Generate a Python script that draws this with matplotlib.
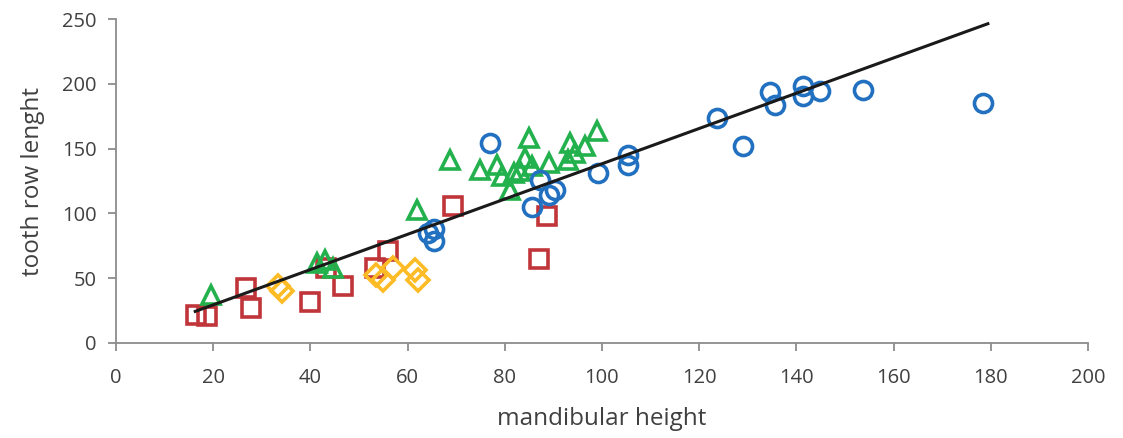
import numpy as np
import matplotlib
matplotlib.use('Agg')
import matplotlib.pyplot as plt

# data (mandibular height vs tooth row length)
squares_x = [16.4, 18.7, 26.7, 27.8, 39.9, 43.3, 46.8, 53.3, 56.0, 69.3, 87.1, 88.6]
squares_y = [21.5, 20.5, 42.4, 27.0, 32.0, 57.9, 43.7, 57.9, 70.7, 105.8, 64.8, 97.7]

diamonds_x = [33.4, 34.1, 53.6, 55.0, 57.0, 61.5, 62.2]
diamonds_y = [43.7, 39.8, 52.7, 48.8, 57.9, 56.6, 48.8]

triangles_x = [19.5, 41.3, 43.0, 44.7, 62.0, 68.8, 74.9, 78.3, 79.4, 81.1, 81.8,
               83.1, 84.2, 84.9, 85.5, 89.0, 93.1, 93.4, 94.4, 96.5, 98.9]
triangles_y = [37.3, 61.7, 64.3, 57.9, 102.5, 141.4, 133.7, 137.6, 128.5, 118.3, 131.2,
               132.4, 142.7, 158.2, 136.3, 138.9, 141.4, 154.3, 146.6, 151.7, 163.3]

circles_x = [64.2, 65.5, 65.5, 77.0, 85.5, 87.2, 89.0, 90.3, 99.2, 105.4, 105.4,
             123.6, 129.1, 134.6, 135.6, 141.4, 141.4, 144.9, 153.8, 178.3]
circles_y = [84.9, 79.0, 88.0, 154.3, 105.0, 126.0, 114.4, 118.0, 131.2, 145.3, 137.6,
             173.6, 152.2, 193.4, 183.9, 198.0, 190.3, 194.1, 195.4, 185.2]

# trend line
line_x = [16.3, 179.4]
slope = 1.361
intercept = 2.2

plt.rcParams['font.family'] = ['Open Sans', 'DejaVu Sans']

fig = plt.figure(figsize=(11.23, 4.38), dpi=100)
ax = fig.add_axes([0.1033, 0.2169, 0.8655, 0.7397])

ms = 13
mew = 2.6
ax.plot(squares_x, squares_y, 's', ms=ms * 0.95, mew=mew, mfc='none', mec='#c0353a', zorder=3)
ax.plot(diamonds_x, diamonds_y, 'D', ms=ms * 0.85, mew=mew, mfc='none', mec='#fdbb26', zorder=3)
ax.plot(triangles_x, triangles_y, '^', ms=ms * 1.05, mew=mew, mfc='none', mec='#22b14c', zorder=3)
ax.plot(circles_x, circles_y, 'o', ms=ms, mew=mew, mfc='none', mec='#2270c0', zorder=3)

lx = np.array(line_x)
ax.plot(lx, slope * lx + intercept, color='#1a1a1a', lw=2.2, zorder=4)

ax.set_xlim(0, 200)
ax.set_ylim(0, 250)
ax.set_xticks(np.arange(0, 201, 20))
ax.set_yticks(np.arange(0, 251, 50))
for side in ['top', 'right']:
    ax.spines[side].set_visible(False)
for side in ['left', 'bottom']:
    ax.spines[side].set_color('#8c8c8c')
    ax.spines[side].set_linewidth(1.3)
ax.tick_params(axis='both', colors='#8c8c8c', length=6, width=1.3, labelsize=14.5,
               labelcolor='#404040', direction='out')
ax.tick_params(axis='x', pad=12)
ax.tick_params(axis='y', pad=8)
ax.set_xlabel('mandibular height', fontsize=17.5, color='#404040', labelpad=14)
ax.set_ylabel('tooth row lenght', fontsize=17.5, color='#404040', labelpad=12)

fig.savefig('out.png', dpi=100)
